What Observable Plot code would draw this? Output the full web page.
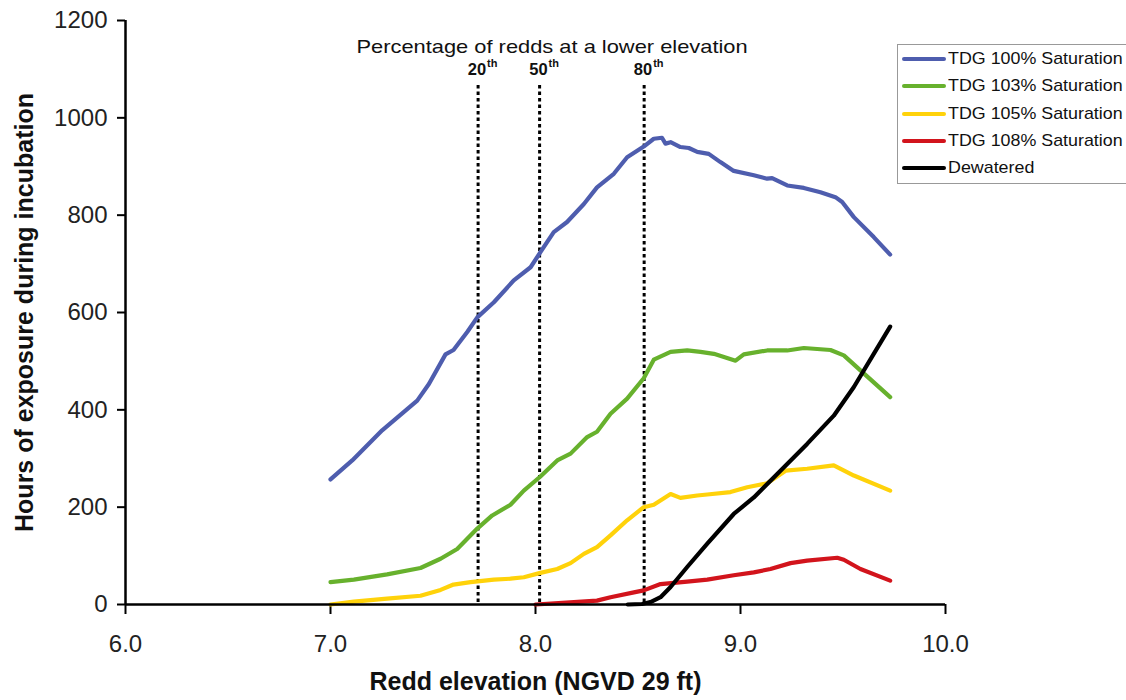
<!DOCTYPE html>
<html>
<head>
<meta charset="utf-8">
<script src="https://cdn.jsdelivr.net/npm/d3@7"></script>
<script src="https://cdn.jsdelivr.net/npm/@observablehq/plot@0.6"></script>
<style>
  body { margin: 0; background: #fff; font-family: "Liberation Sans", Arial, sans-serif; }
  #wrap { position: relative; width: 1126px; height: 700px; overflow: hidden; }
  #title { position: absolute; left: 252px; top: 36px; width: 600px; text-align: center; font-size: 19px; line-height: 22px; color: #111; }
  #title span { display: inline-block; transform: scaleX(1.15); }
  #legend { position: absolute; left: 897px; top: 44px; width: 240px; height: 140px; border: 1px solid #999; box-sizing: border-box; background: #fff; }
  .row { position: absolute; left: 4px; height: 20px; display: flex; align-items: center; font-size: 17px; color: #111; white-space: nowrap; }
  .row span { display: inline-block; transform: scaleX(1.05); transform-origin: left center; }
  .sw { width: 44px; height: 4px; border-radius: 2px; margin-right: 2px; }
</style>
</head>
<body>
<div id="wrap">
  <div id="chart"></div>
  <div id="title"><span>Percentage of redds at a lower elevation</span></div>
  <div id="legend"></div>
</div>
<script>
// Series data (x = redd elevation, y = hours)
const sat100X = [7.0, 7.106, 7.252, 7.423, 7.48, 7.561, 7.60, 7.667, 7.716, 7.797, 7.894, 7.976, 8.024, 8.089, 8.154, 8.236, 8.30, 8.382, 8.447, 8.528, 8.577, 8.617, 8.634, 8.659, 8.707, 8.748, 8.789, 8.845, 8.902, 8.967, 9.065, 9.13, 9.154, 9.228, 9.309, 9.39, 9.463, 9.496, 9.553, 9.65, 9.73];
const sat100Y = [257, 296, 358, 419, 453, 514, 523, 560, 590, 621, 666, 693, 724, 765, 786, 823, 857, 885, 919, 941, 957, 959, 947, 950, 940, 938, 930, 926, 909, 891, 882, 875, 876, 861, 856, 847, 837, 827, 796, 755, 719];

const sat103X = [7.0, 7.114, 7.276, 7.439, 7.537, 7.618, 7.716, 7.789, 7.878, 7.943, 8.024, 8.106, 8.171, 8.252, 8.30, 8.366, 8.447, 8.528, 8.577, 8.659, 8.74, 8.805, 8.87, 8.976, 9.016, 9.13, 9.228, 9.309, 9.439, 9.504, 9.585, 9.73];
const sat103Y = [46, 51, 62, 75, 94, 114, 156, 183, 205, 234, 263, 296, 310, 344, 355, 392, 423, 465, 503, 519, 522, 519, 515, 501, 514, 522, 522, 527, 523, 512, 481, 426];

const sat105X = [7.0, 7.114, 7.276, 7.439, 7.537, 7.60, 7.683, 7.797, 7.878, 7.943, 8.024, 8.106, 8.171, 8.236, 8.30, 8.366, 8.447, 8.528, 8.577, 8.659, 8.707, 8.789, 8.838, 8.951, 9.033, 9.13, 9.22, 9.325, 9.455, 9.553, 9.73];
const sat105Y = [0, 6, 12, 18, 30, 41, 46, 51, 53, 56, 65, 73, 85, 104, 118, 142, 173, 200, 205, 227, 219, 224, 226, 231, 241, 249, 275, 279, 286, 265, 234];

const sat108X = [8.0, 8.15, 8.30, 8.366, 8.48, 8.528, 8.61, 8.74, 8.838, 8.967, 9.065, 9.146, 9.244, 9.325, 9.472, 9.504, 9.585, 9.73];
const sat108Y = [0, 4, 8, 15, 25, 29, 42, 47, 51, 60, 66, 73, 85, 90, 96, 92, 73, 49];

const dewX = [8.45, 8.52, 8.561, 8.61, 8.659, 8.74, 8.838, 8.967, 9.065, 9.195, 9.325, 9.455, 9.553, 9.65, 9.73];
const dewY = [0, 1, 5, 15, 36, 77, 125, 186, 220, 275, 330, 388, 447, 515, 571];

const seriesNames = ["TDG 100% Saturation", "TDG 103% Saturation", "TDG 105% Saturation", "TDG 108% Saturation", "Dewatered"];
const seriesColors = ["#4E5DAE", "#67B12D", "#FFD20A", "#D2141C", "#000000"];

const pctX = [7.72, 8.02, 8.53];
const pctLabel = ["20", "50", "80"];

const xTicks = [6, 7, 8, 9, 10];
const yTicks = [0, 200, 400, 600, 800, 1000, 1200];

const seriesXY = [[sat100X, sat100Y], [sat103X, sat103Y], [sat105X, sat105Y], [sat108X, sat108Y], [dewX, dewY]];
const rows = [];
seriesXY.forEach(([xs, ys], i) => xs.forEach((x, j) => rows.push({series: seriesNames[i], x, y: ys[j]})));

const font = '"Liberation Sans", Arial, sans-serif';

const chart = Plot.plot({
  width: 1126,
  height: 700,
  marginLeft: 125,
  marginRight: 181,
  marginTop: 20,
  marginBottom: 96,
  style: {fontFamily: font, background: "transparent", color: "#222"},
  x: {domain: [6, 10]},
  y: {domain: [0, 1200]},
  color: {domain: seriesNames, range: seriesColors},
  marks: [
    Plot.axisX({ticks: xTicks, tickFormat: d3.format(".1f"), tickSize: 10, tickPadding: 20, fontSize: 24, strokeWidth: 2, stroke: "#000", fill: "#222", label: null}),
    Plot.axisY({ticks: yTicks, tickFormat: d3.format("d"), tickSize: 8, tickPadding: 10, fontSize: 24, strokeWidth: 2, stroke: "#000", fill: "#222", label: null}),
    Plot.ruleX(pctX, {stroke: "#000", strokeWidth: 3, strokeDasharray: "3.5,3", insetTop: 65}),
    Plot.line(rows, {x: "x", y: "y", z: "series", stroke: "series", strokeWidth: 4.2, strokeLinejoin: "round", strokeLinecap: "round"}),
    Plot.ruleX([6], {stroke: "#000", strokeWidth: 2.5}),
    Plot.ruleY([0], {stroke: "#000", strokeWidth: 2.5}),
    Plot.text(pctX, {x: d => d, text: (d, i) => pctLabel[i], frameAnchor: "top", lineAnchor: "middle", dy: 49, dx: 8, textAnchor: "end", fontSize: 16.5, fontWeight: "bold", fill: "#111"}),
    Plot.text(pctX, {x: d => d, text: () => "th", frameAnchor: "top", lineAnchor: "middle", dy: 43, dx: 9, textAnchor: "start", fontSize: 11, fontWeight: "bold", fill: "#111"}),
    Plot.text(["Hours of exposure during incubation"], {frameAnchor: "left", textAnchor: "middle", lineAnchor: "middle", dx: -101, rotate: -90, fontSize: 25, fontWeight: "bold", fill: "#111"}),
    Plot.text(["Redd elevation (NGVD 29 ft)"], {frameAnchor: "bottom", lineAnchor: "middle", dy: 77, fontSize: 25, fontWeight: "bold", fill: "#111"})
  ]
});
document.getElementById("chart").appendChild(chart);

const legend = document.getElementById("legend");
seriesNames.forEach((name, i) => {
  const row = document.createElement("div");
  row.className = "row";
  row.style.top = (4 + i * 27.3) + "px";
  const sw = document.createElement("div");
  sw.className = "sw";
  sw.style.background = seriesColors[i];
  const label = document.createElement("span");
  label.textContent = name;
  row.appendChild(sw);
  row.appendChild(label);
  legend.appendChild(row);
});
</script>
</body>
</html>
